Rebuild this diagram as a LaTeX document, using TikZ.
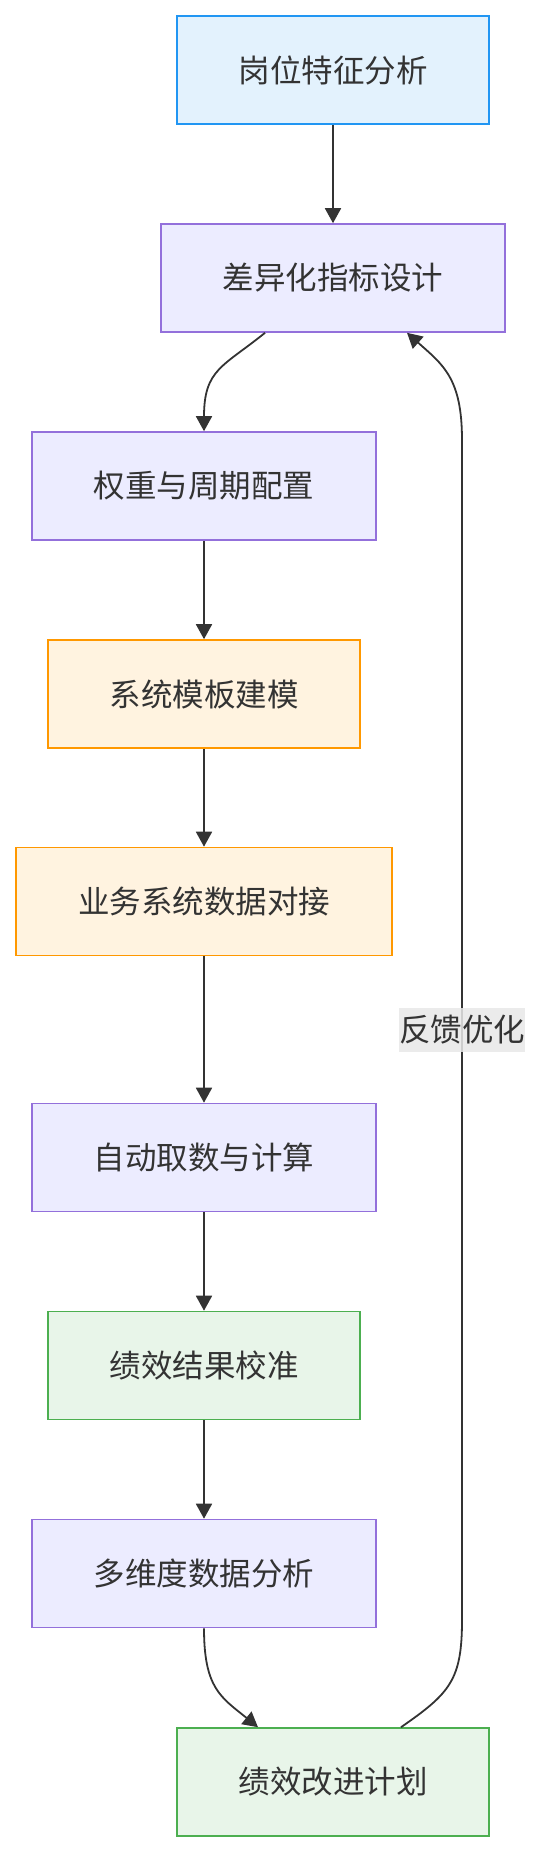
\documentclass[tikz,border=0pt]{standalone}
\usepackage{fontspec}
\newfontfamily\cjk{Noto Sans CJK SC}
\usetikzlibrary{arrows.meta,calc}
\definecolor{txt}{HTML}{333333}
\definecolor{bluefill}{HTML}{E3F2FD}
\definecolor{blueline}{HTML}{2196F3}
\definecolor{lavfill}{HTML}{ECECFF}
\definecolor{lavline}{HTML}{9370DB}
\definecolor{orfill}{HTML}{FFF3E0}
\definecolor{orline}{HTML}{FF9800}
\definecolor{grfill}{HTML}{E8F5E9}
\definecolor{grline}{HTML}{4CAF50}
\definecolor{lblgray}{HTML}{E8E8E8}
\tikzset{
  box/.style={draw, line width=1.6pt, minimum height=108pt, inner sep=0pt, text=txt, font=\cjk\fontsize{31.5}{36}\selectfont},
  bluebox/.style={box, fill=bluefill, draw=blueline},
  lavbox/.style={box, fill=lavfill, draw=lavline},
  orbox/.style={box, fill=orfill, draw=orline},
  grbox/.style={box, fill=grfill, draw=grline},
  conn/.style={draw=txt, line width=1.8pt, -{Triangle[length=15pt,width=16pt]}},
  lbl/.style={fill=lblgray, fill opacity=0.85, text opacity=1, text=txt, inner xsep=0pt, inner ysep=7pt, font=\cjk\fontsize{31.5}{36}\selectfont}
}
\begin{document}
\begin{tikzpicture}[x=1pt,y=-1pt]
\useasboundingbox (0,0) rectangle (542,1852);
\node[bluebox, minimum width=312pt] (n1) at (333,70) {岗位特征分析};
\node[lavbox, minimum width=344pt] (n2) at (333,278) {差异化指标设计};
\node[lavbox, minimum width=344pt] (n3) at (204,486) {权重与周期配置};
\node[orbox, minimum width=312pt] (n4) at (204,694) {系统模板建模};
\node[orbox, minimum width=376pt] (n5) at (204,901.5) {业务系统数据对接};
\node[lavbox, minimum width=344pt] (n6) at (204,1157.5) {自动取数与计算};
\node[grbox, minimum width=312pt] (n7) at (204,1365.5) {绩效结果校准};
\node[lavbox, minimum width=344pt] (n8) at (204,1573.5) {多维度数据分析};
\node[grbox, minimum width=312pt] (n9) at (333,1782) {绩效改进计划};

\draw[conn] (n1.south) -- (n2.north);
\draw[conn] ($(n2.south)+(-68,0)$) .. controls ($(n2.south)+(-110,34)$) and ($(n3.north)+(0,-62)$) .. (n3.north);
\draw[conn] (n3.south) -- (n4.north);
\draw[conn] (n4.south) -- (n5.north);
\draw[conn] (n5.south) -- (n6.north);
\draw[conn] (n6.south) -- (n7.north);
\draw[conn] (n7.south) -- (n8.north);
\draw[conn] (n8.south) .. controls ($(n8.south)+(0,60)$) and ($(n9.north)+(-112,-30)$) .. ($(n9.north)+(-75,0)$);
\coordinate (fb1) at (462,1620);
\coordinate (fb2) at (462,440);
\draw[conn] ($(n9.north)+(68,0)$) .. controls ($(n9.north)+(117,-34)$) and ($(fb1)+(0,60)$) .. (fb1)
  -- node[lbl] (lab) {反馈优化} (fb2)
  .. controls ($(fb2)+(0,-62)$) and ($(n2.south)+(110,32)$) .. ($(n2.south)+(74,0)$);
\end{tikzpicture}
\end{document}
